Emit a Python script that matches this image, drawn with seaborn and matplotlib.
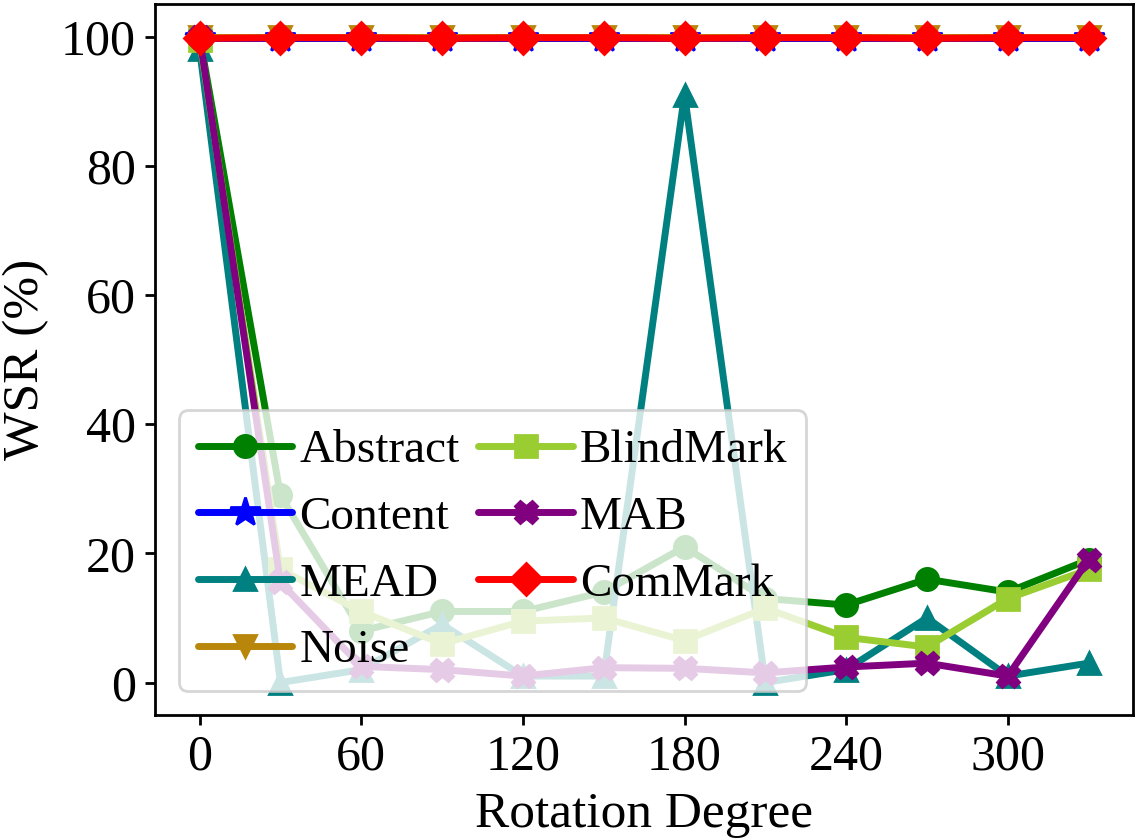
import numpy as np
import pandas as pd
import matplotlib
matplotlib.use("Agg")
import matplotlib.pyplot as plt
import seaborn as sns

# ---------------------------------------------------------
# DATA
# ---------------------------------------------------------
degrees = [0, 30, 60, 90, 120, 150, 180, 210, 240, 270, 300, 330]

abstract = [100, 29, 8, 11, 11, 14, 21, 13, 12, 16, 14, 19]
content = [99.8, 99.8, 99.8, 99.8, 99.8, 99.8, 99.8, 99.8, 99.8, 99.8, 99.8, 99.8]
mead = [98, 0, 2, 9, 1, 1, 91, 0, 2, 10, 1, 3]
noise = [100, 100, 100, 100, 100, 100, 100, 100, 100, 100, 100, 100]
blindmark = [99.5, 17.5, 11, 6, 9.5, 10, 6.5, 11.5, 7, 5.5, 13, 17.5]
mab = [100, 15.5, 2.5, 2, 1, 2.3, 2.2, 1.5, 2.4, 3, 1, 19]
commark = [99.7, 99.8, 99.8, 99.7, 99.8, 99.8, 99.7, 99.8, 99.8, 99.7, 99.8, 99.8]

methods = ["Abstract", "Content", "MEAD", "Noise", "BlindMark", "MAB", "ComMark"]
series = [abstract, content, mead, noise, blindmark, mab, commark]

colors = {"Abstract": "green", "Content": "blue", "MEAD": "teal", "Noise": "darkgoldenrod",
          "BlindMark": "yellowgreen", "MAB": "purple", "ComMark": "red"}
markers = {"Abstract": "o", "Content": "*", "MEAD": "^", "Noise": "v",
           "BlindMark": "s", "MAB": "X", "ComMark": "D"}

# long-form table for seaborn
df = pd.DataFrame({
    "Rotation Degree": np.tile(degrees, len(methods)),
    "WSR (%)": np.concatenate(series),
    "Method": np.repeat(methods, len(degrees)),
})

# ---------------------------------------------------------
# PLOT
# ---------------------------------------------------------
sns.set_style("ticks")
plt.rcParams["font.family"] = ["Liberation Serif", "DejaVu Serif"]
plt.rcParams["text.color"] = "black"
plt.rcParams["axes.labelcolor"] = "black"

fig, ax = plt.subplots(figsize=(5.705, 4.2), dpi=200)
fig.subplots_adjust(left=0.136, right=0.993, top=0.995, bottom=0.149)

sns.lineplot(data=df, x="Rotation Degree", y="WSR (%)", hue="Method", style="Method",
             hue_order=methods, style_order=methods, palette=colors, markers=markers,
             dashes=False, linewidth=2.5, markersize=8, legend=False, ax=ax)

# markers with edges in their own colour (seaborn defaults to white)
lines = ax.get_lines()[:len(methods)]
for name, line in zip(methods, lines):
    line.set_markeredgecolor(line.get_color())
    line.set_markeredgewidth(1.0)
    if name == "Content":
        line.set_markersize(11)  # star looks small at the shared size

for sp in ax.spines.values():
    sp.set_color("black")
    sp.set_linewidth(1.0)
ax.tick_params(colors="black", labelsize=18, length=3.5, width=1.0)
ax.set_xticks([0, 60, 120, 180, 240, 300])
ax.set_yticks([0, 20, 40, 60, 80, 100])
ax.set_xlabel("Rotation Degree", fontsize=18.5, labelpad=4)
ax.set_ylabel("WSR (%)", fontsize=18.5, labelpad=4)

ax.legend(lines, methods, loc="lower left", ncol=2, fontsize=17,
          labelspacing=0.5, handletextpad=0.15, columnspacing=0.4,
          handlelength=2.0, borderpad=0.4)

plt.savefig("out.png", dpi=200)
plt.close()
